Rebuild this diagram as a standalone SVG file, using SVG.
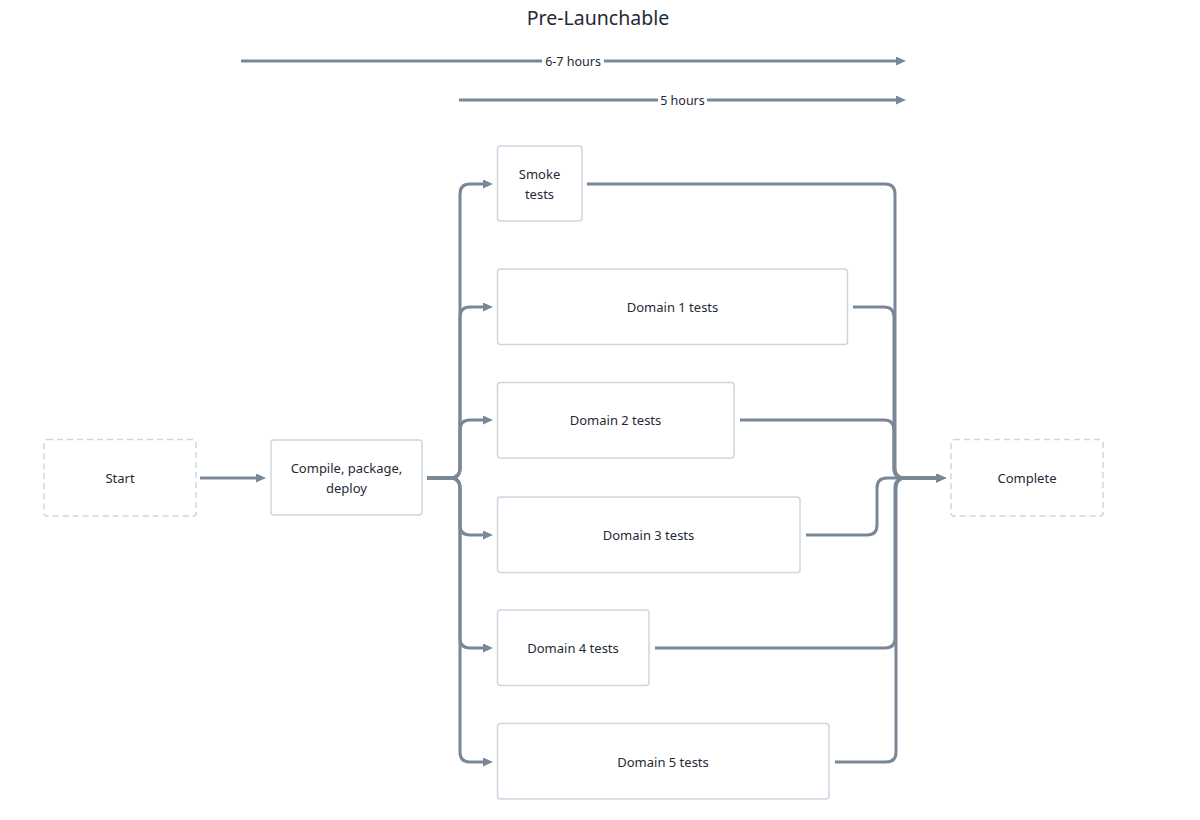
<svg xmlns="http://www.w3.org/2000/svg" width="1200" height="820" viewBox="0 0 1200 820">
<style>
  .box { fill: #ffffff; stroke: #cdd6e0; stroke-width: 1.5; }
  .dash { fill: #ffffff; stroke: #cdd6e0; stroke-width: 1.5; stroke-dasharray: 6 4; }
  .lbl { font-family: "Noto Sans", "DejaVu Sans", sans-serif; font-size: 13px; fill: #1f2a37; text-anchor: middle; }
  .tl { font-family: "Noto Sans", "DejaVu Sans", sans-serif; font-size: 12.5px; fill: #1f2a37; text-anchor: middle; }
  .title { font-family: "Noto Sans", "DejaVu Sans", sans-serif; font-size: 19.5px; fill: #1f2a37; text-anchor: middle; }
  .conn { fill: none; stroke: #7a8796; stroke-width: 3; marker-end: url(#arr); }
</style>
<defs>
  <marker id="arr" markerUnits="userSpaceOnUse" markerWidth="11" markerHeight="11" refX="2" refY="4.5" orient="auto">
    <path d="M0,0 L10,4.5 L0,9 z" fill="#7a8796"/>
  </marker>
</defs>
<rect width="1200" height="820" fill="#ffffff"/>
<text class="title" x="598" y="25">Pre-Launchable</text>

<g id="connectors">
  <path class="conn" d="M241,61 H898"/>
  <path class="conn" d="M459,100 H898"/>
  <path class="conn" d="M200,478 H258"/>
  <path class="conn" d="M427,478 H450 Q460,478 460,468 V194 Q460,184 470,184 H485"/>
  <path class="conn" d="M427,478 H450 Q460,478 460,468 V317 Q460,307 470,307 H485"/>
  <path class="conn" d="M427,478 H450 Q460,478 460,468 V430 Q460,420 470,420 H485"/>
  <path class="conn" d="M427,478 H450 Q460,478 460,488 V525 Q460,535 470,535 H485"/>
  <path class="conn" d="M427,478 H450 Q460,478 460,488 V638 Q460,648 470,648 H485"/>
  <path class="conn" d="M427,478 H450 Q460,478 460,488 V752 Q460,762 470,762 H485"/>
  <path class="conn" d="M587,184 H885 Q895,184 895,194 V468 Q895,478 905,478 H938"/>
  <path class="conn" d="M853,307 H884 Q894,307 894,317 V468 Q894,478 904,478 H938"/>
  <path class="conn" d="M740,420 H884 Q894,420 894,430 V468 Q894,478 904,478 H938"/>
  <path class="conn" d="M806,535 H867 Q877,535 877,525 V488 Q877,478 887,478 H938"/>
  <path class="conn" d="M655,648 H885 Q895,648 895,638 V488 Q895,478 905,478 H938"/>
  <path class="conn" d="M835,762 H886 Q896,762 896,752 V488 Q896,478 906,478 H938"/>
  <rect x="542" y="52" width="62" height="18" fill="#ffffff"/>
  <text class="tl" x="573" y="66">6-7 hours</text>
  <rect x="658" y="91" width="49" height="18" fill="#ffffff"/>
  <text class="tl" x="682.5" y="105">5 hours</text>
</g>

<g id="start">
  <rect class="dash" x="44" y="439.5" width="152" height="76.5" rx="3"/>
  <text class="lbl" x="120" y="483">Start</text>
</g>
<g id="compile">
  <rect class="box" x="271" y="440" width="151" height="75" rx="3"/>
  <text class="lbl" x="346.5" y="473">Compile, package,</text>
  <text class="lbl" x="346.5" y="493">deploy</text>
</g>
<g id="smoke">
  <rect class="box" x="497.5" y="146" width="84.5" height="75" rx="3"/>
  <text class="lbl" x="539.5" y="179">Smoke</text>
  <text class="lbl" x="539.5" y="199">tests</text>
</g>
<g id="domain1">
  <rect class="box" x="497.5" y="269" width="350" height="75.5" rx="3"/>
  <text class="lbl" x="672.5" y="312">Domain 1 tests</text>
</g>
<g id="domain2">
  <rect class="box" x="497.5" y="382.5" width="236.5" height="75.5" rx="3"/>
  <text class="lbl" x="615.5" y="425">Domain 2 tests</text>
</g>
<g id="domain3">
  <rect class="box" x="497.5" y="497" width="302.5" height="75.5" rx="3"/>
  <text class="lbl" x="648.5" y="540">Domain 3 tests</text>
</g>
<g id="domain4">
  <rect class="box" x="497.5" y="610" width="151.5" height="75.5" rx="3"/>
  <text class="lbl" x="573" y="653">Domain 4 tests</text>
</g>
<g id="domain5">
  <rect class="box" x="497.5" y="723.5" width="331.5" height="75.5" rx="3"/>
  <text class="lbl" x="663" y="767">Domain 5 tests</text>
</g>
<g id="complete">
  <rect class="dash" x="951" y="439.5" width="152" height="76.5" rx="3"/>
  <text class="lbl" x="1027" y="483">Complete</text>
</g>
</svg>
